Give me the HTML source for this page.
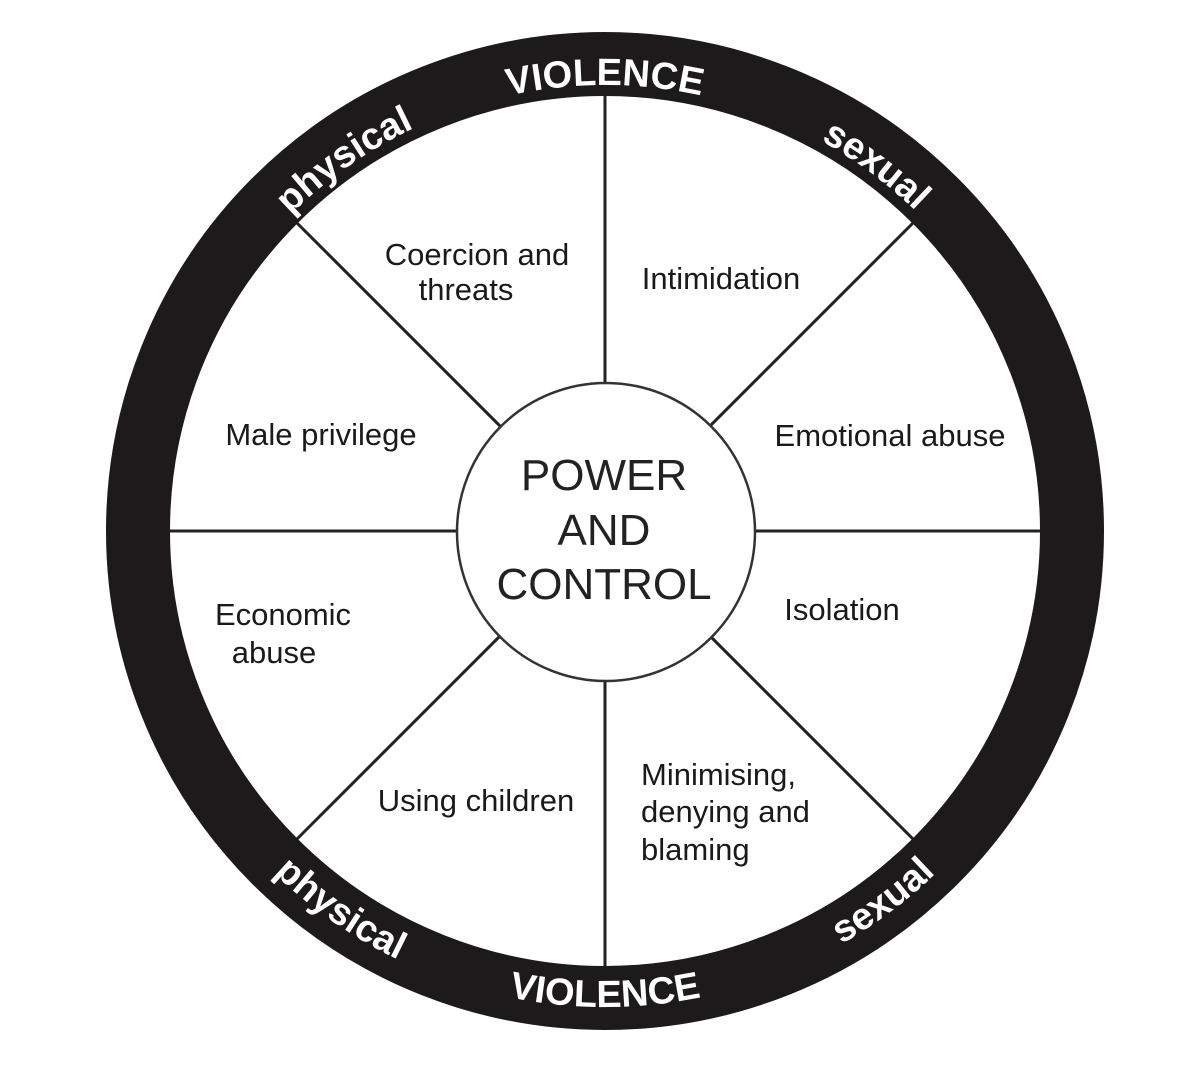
<!DOCTYPE html>
<html><head><meta charset="utf-8"><style>
html,body{margin:0;padding:0;background:#fff;}
svg{display:block;}
.lbl{font-family:"Liberation Sans",Arial,sans-serif;font-size:31px;fill:#1a1a1a;}
.ring{font-family:"Liberation Sans",Arial,sans-serif;font-size:38px;font-weight:bold;fill:#fff;}
.ctr{font-family:"Liberation Sans",Arial,sans-serif;font-size:44px;fill:#222;}
</style></head><body>
<svg width="1200" height="1086" viewBox="0 0 1200 1086" xmlns="http://www.w3.org/2000/svg">
<defs>
<path id="top" d="M159,531 A446,446 0 0 1 1051,531"/>
<path id="bot" d="M129,531 A476,476 0 0 0 1081,531"/>
</defs>
<g stroke="#222" stroke-width="3">
<line x1="605" y1="96" x2="605" y2="966"/>
<line x1="170" y1="531" x2="1040" y2="531"/>
<line x1="297" y1="223" x2="913" y2="839"/>
<line x1="913" y1="223" x2="297" y2="839"/>
</g>
<circle cx="605" cy="531" r="467" fill="none" stroke="#1c1a1a" stroke-width="64"/>
<circle cx="606" cy="532" r="149" fill="#fff" stroke="#333" stroke-width="2.5"/>
<text class="ctr" text-anchor="middle" x="604" y="490">POWER</text>
<text class="ctr" text-anchor="middle" x="604" y="545">AND</text>
<text class="ctr" text-anchor="middle" x="604" y="599">CONTROL</text>

<text class="ring" text-anchor="middle"><textPath href="#top" startOffset="50%">VIOLENCE</textPath></text>
<text class="ring" text-anchor="middle"><textPath href="#top" startOffset="30.5%">physical</textPath></text>
<text class="ring" text-anchor="middle"><textPath href="#top" startOffset="70.3%">sexual</textPath></text>
<text class="ring" text-anchor="middle"><textPath href="#bot" startOffset="50%">VIOLENCE</textPath></text>
<text class="ring" text-anchor="middle"><textPath href="#bot" startOffset="30.6%">physical</textPath></text>
<text class="ring" text-anchor="middle"><textPath href="#bot" startOffset="70.5%">sexual</textPath></text>

<text class="lbl" text-anchor="middle" x="477" y="265">Coercion and</text>
<text class="lbl" text-anchor="middle" x="466" y="300">threats</text>
<text class="lbl" text-anchor="middle" x="721" y="289">Intimidation</text>
<text class="lbl" text-anchor="middle" x="321" y="445">Male privilege</text>
<text class="lbl" text-anchor="middle" x="890" y="446">Emotional abuse</text>
<text class="lbl" text-anchor="middle" x="283" y="625">Economic</text>
<text class="lbl" text-anchor="middle" x="274" y="663">abuse</text>
<text class="lbl" text-anchor="middle" x="842" y="620">Isolation</text>
<text class="lbl" text-anchor="middle" x="476" y="811">Using children</text>
<text class="lbl" x="641" y="785">Minimising,</text>
<text class="lbl" x="641" y="822">denying and</text>
<text class="lbl" x="641" y="860">blaming</text>
</svg>
</body></html>
